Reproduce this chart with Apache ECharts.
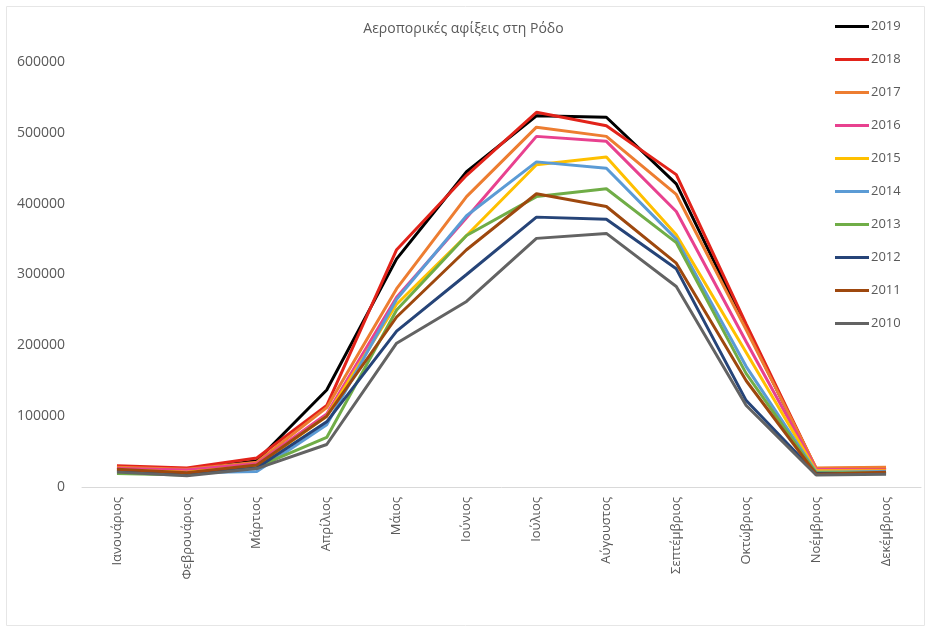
<!DOCTYPE html>
<html>
<head>
<meta charset="utf-8">
<script src="https://cdn.jsdelivr.net/npm/echarts@6/dist/echarts.min.js"></script>
<style>html,body{margin:0;padding:0;background:#fff;}#c{width:927px;height:628px;}</style>
</head>
<body>
<div id="c"></div>
<script>
const months = ['Ιανουάριος','Φεβρουάριος','Μάρτιος','Απρίλιος','Μάιος','Ιούνιος','Ιούλιος','Αύγουστος','Σεπτέμβριος','Οκτώβριος','Νοέμβριος','Δεκέμβριος'];
const years = ['2019','2018','2017','2016','2015','2014','2013','2012','2011','2010'];
const y2019 = [27000, 24000, 37000, 137000, 322000, 445000, 524000, 522000, 428000, 225000, 25000, 26000];
const y2018 = [30000, 27000, 41000, 115000, 335000, 440000, 529000, 510000, 441000, 230000, 26000, 27000];
const y2017 = [28000, 25000, 35000, 112000, 280000, 410000, 508000, 495000, 413000, 222000, 27000, 28000];
const y2016 = [26000, 24000, 33000, 103000, 268000, 380000, 495000, 488000, 389000, 205000, 25000, 24000];
const y2015 = [24000, 21000, 30000, 100000, 258000, 355000, 455000, 466000, 356000, 190000, 23000, 23000];
const y2014 = [22000, 20000, 22000, 88000, 265000, 383000, 459000, 450000, 350000, 170000, 21000, 22000];
const y2013 = [19000, 17000, 28000, 70000, 250000, 355000, 410000, 421000, 345000, 160000, 20000, 20000];
const y2012 = [23000, 19000, 27000, 92000, 220000, 300000, 381000, 378000, 308000, 122000, 19000, 19000];
const y2011 = [25000, 20000, 31000, 100000, 240000, 335000, 414000, 396000, 316000, 150000, 18000, 21000];
const y2010 = [21000, 16000, 26000, 60000, 203000, 262000, 351000, 358000, 283000, 115000, 17000, 18000];
const yTicks = [0, 100000, 200000, 300000, 400000, 500000, 600000];

const values = [y2019, y2018, y2017, y2016, y2015, y2014, y2013, y2012, y2011, y2010];
const colors = ['#000000','#E2231A','#ED7D31','#E8418F','#FFC000','#5B9BD5','#70AD47','#264478','#9E480E','#636363'];
const font = 'Open Sans';
const txt = '#595959';

const chart = echarts.init(document.getElementById('c'));
chart.setOption({
  animation: false,
  backgroundColor: '#fff',
  textStyle: { fontFamily: font },
  title: {
    text: 'Αεροπορικές αφίξεις στη Ρόδο',
    left: 'center', top: 17,
    textStyle: { fontFamily: font, fontSize: 14, fontWeight: 'normal', color: txt }
  },
  graphic: [{
    type: 'rect', left: 4, top: 4,
    shape: { width: 918, height: 619 },
    style: { fill: 'none', stroke: '#e6e6e6', lineWidth: 1 }
  }],
  legend: {
    orient: 'vertical', left: 830, top: 15,
    itemWidth: 34, itemHeight: 3, itemGap: 20,
    icon: 'rect',
    data: years,
    textStyle: { fontFamily: font, fontSize: 13, color: txt, padding: [0, 0, 0, -3] }
  },
  grid: { left: 82, right: 6, top: 62, bottom: 141 },
  xAxis: {
    type: 'category', data: months, boundaryGap: true,
    axisLine: { lineStyle: { color: '#d9d9d9', width: 1 } },
    axisTick: { show: false },
    axisLabel: { rotate: 90, interval: 0, margin: 10, fontFamily: font, fontSize: 13, color: txt }
  },
  yAxis: {
    type: 'value', min: yTicks[0], max: yTicks[yTicks.length - 1], interval: 100000,
    axisLine: { show: false }, axisTick: { show: false },
    splitLine: { show: false },
    axisLabel: { margin: 17, fontFamily: font, fontSize: 14, color: txt, formatter: v => String(v) }
  },
  series: years.map((y, i) => ({
    name: y, type: 'line', data: values[i],
    showSymbol: false, symbol: 'none',
    lineStyle: { width: 3, color: colors[i] },
    itemStyle: { color: colors[i] }
  }))
});
</script>
</body>
</html>
